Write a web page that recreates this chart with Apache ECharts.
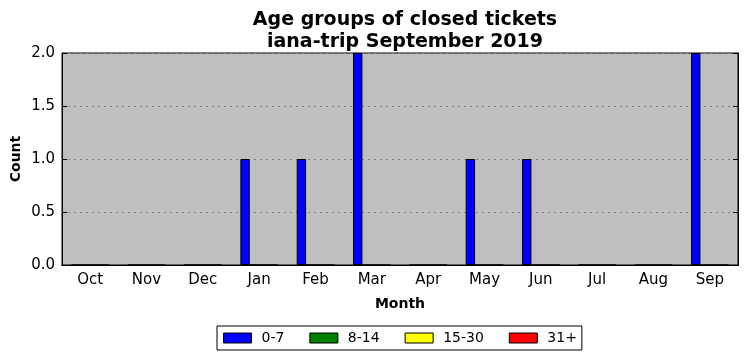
<!DOCTYPE html>
<html><head><meta charset="utf-8">
<script src="https://cdn.jsdelivr.net/npm/echarts@6/dist/echarts.min.js"></script>
<style>html,body{margin:0;padding:0;background:#fff}#c{width:747px;height:361px}</style>
</head><body><div id="c"></div>
<script>
const months = ['Oct','Nov','Dec','Jan','Feb','Mar','Apr','May','Jun','Jul','Aug','Sep'];
const s0_7   = [0,0,0,1,1,2,0,1,1,0,0,2];
const s8_14  = [0,0,0,0,0,0,0,0,0,0,0,0];
const s15_30 = [0,0,0,0,0,0,0,0,0,0,0,0];
const s31    = [0,0,0,0,0,0,0,0,0,0,0,0];
const seriesNames = ['0-7','8-14','15-30','31+'];
const colors = ['#0000ff','#008000','#ffff00','#ff0000'];
const yTicks = [0,0.5,1.0,1.5,2.0];

const F = 'DejaVu Sans';
const chart = echarts.init(document.getElementById('c'));
const data = [s0_7, s8_14, s15_30, s31];
chart.setOption({
  animation:false,
  backgroundColor:'#fff',
  title:{text:'Age groups of closed tickets\niana-trip September 2019', left:400, textAlign:'center', top:4,
    textStyle:{fontFamily:F, fontSize:19, fontWeight:'bold', color:'#000', lineHeight:22}},
  grid:{left:62, right:9, top:53, bottom:96, outerBoundsMode:'none', containLabel:false,
    backgroundColor:'#bfbfbf', show:true, borderColor:'#000', borderWidth:1},
  legend:{top:326, left:217, icon:'rect', itemWidth:28, itemHeight:10, itemGap:25, padding:[5,5,5,6],
    borderColor:'#000', borderWidth:1, backgroundColor:'#fff',
    textStyle:{fontFamily:F, fontSize:14, color:'#000', padding:[0,0,0,5]}, data:seriesNames,
    itemStyle:{borderColor:'#000', borderWidth:1}},
  xAxis:[{type:'category', data:months, position:'bottom',
    name:'Month', nameLocation:'middle', nameGap:32, nameMoveOverlap:false,
    nameTextStyle:{fontFamily:F, fontSize:14, fontWeight:'bold', color:'#000'},
    axisLine:{show:true, lineStyle:{color:'#000'}},
    axisTick:{inside:true, alignWithLabel:true, length:5, lineStyle:{color:'#000'}},
    axisLabel:{fontFamily:F, fontSize:15, color:'#000', margin:8},
    splitLine:{show:false}},
   {type:'category', data:months, position:'top',
    axisLine:{show:true, lineStyle:{color:'#000'}},
    axisTick:{inside:true, alignWithLabel:true, length:5, lineStyle:{color:'#000'}},
    axisLabel:{show:false}, splitLine:{show:false}}],
  yAxis:[{type:'value', min:0, max:2, interval:0.5, position:'left',
    name:'Count', nameLocation:'middle', nameGap:39, nameMoveOverlap:false,
    nameTextStyle:{fontFamily:F, fontSize:14, fontWeight:'bold', color:'#000'},
    axisLine:{show:true, lineStyle:{color:'#000'}},
    axisTick:{show:true, inside:true, length:5, lineStyle:{color:'#000'}},
    axisLabel:{fontFamily:F, fontSize:15, color:'#000', margin:7, formatter:v=>v.toFixed(1)},
    splitLine:{show:true, lineStyle:{color:'#808080', type:[2,4], width:1}}},
   {type:'value', min:0, max:2, interval:0.5, position:'right',
    axisLine:{show:true, lineStyle:{color:'#000'}},
    axisTick:{show:true, inside:true, length:5, lineStyle:{color:'#000'}},
    axisLabel:{show:false}, splitLine:{show:false}}],
  series: seriesNames.map((n,i)=>({name:n, type:'bar', data:data[i], xAxisIndex:0, yAxisIndex:0,
    barGap:'0%', barWidth:9.4,
    itemStyle:{color:colors[i], borderColor:'#000', borderWidth:1}}))
});
</script></body></html>
